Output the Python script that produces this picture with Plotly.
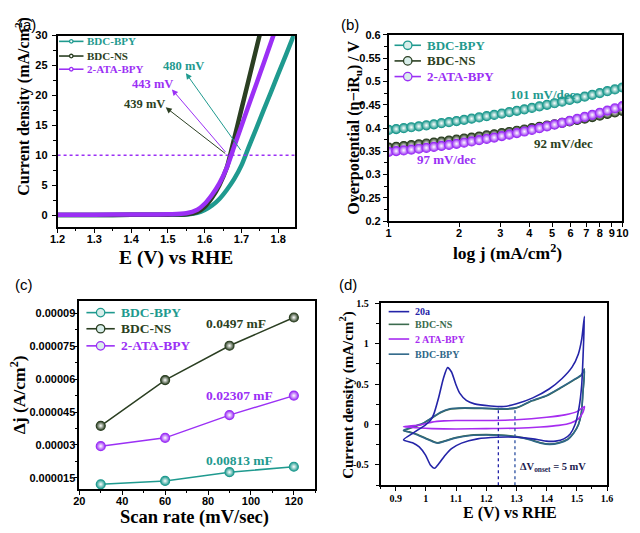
import plotly.graph_objects as go

W, H = 640, 533
OFF = 8  # page body margin of the html page
def PX(x): return (x - OFF) / W
def PY(y): return 1 - (y - OFF) / H

SERIF = "Liberation Serif"
SANS = "Liberation Sans"
TEAL = "#1f9a8f"; DARK = "#2b3f22"; PURP = "#9b30f5"
D_BLUE = "#2424a8"; D_NS = "#3c6b4e"; D_ATA = "#a62cf0"; D_BPY = "#2f6788"

# ---------------- (a) LSV ----------------
lsv_E_bpy = [1.20, 1.30, 1.40, 1.50, 1.55, 1.58, 1.60, 1.62, 1.64, 1.66, 1.68, 1.70, 1.72, 1.74, 1.76, 1.78, 1.80, 1.82, 1.84, 1.86]
lsv_j_bpy = [0.0, 0.02, 0.04, 0.07, 0.12, 0.4, 0.85, 1.6, 2.7, 4.2, 6.0, 8.3, 11.4, 14.4, 17.5, 20.5, 23.6, 26.6, 29.7, 32.7]
lsv_E_ns = [1.20, 1.30, 1.40, 1.50, 1.55, 1.58, 1.60, 1.62, 1.64, 1.66, 1.67, 1.68, 1.70, 1.72, 1.74, 1.76]
lsv_j_ns = [0.0, 0.02, 0.05, 0.08, 0.15, 0.55, 1.4, 2.9, 5.0, 7.9, 10.2, 12.7, 17.7, 22.7, 27.7, 32.7]
lsv_E_ata = [1.20, 1.30, 1.40, 1.50, 1.55, 1.58, 1.60, 1.62, 1.64, 1.66, 1.68, 1.70, 1.72, 1.74, 1.76, 1.78, 1.80]
lsv_j_ata = [0.05, 0.08, 0.1, 0.15, 0.3, 0.9, 1.9, 3.4, 5.3, 7.9, 11.4, 14.9, 18.4, 21.8, 25.3, 28.8, 32.3]
ref_j = 10
eta_labels = ["480 mV", "443 mV", "439 mV"]
eta_colors = [TEAL, PURP, DARK]
eta_tail = [(1.701, 10.6), (1.660, 10.3), (1.660, 10.1)]
eta_head = [(1.549, 23.7), (1.511, 21.0), (1.494, 18.0)]
eta_text = [(1.542, 24.9), (1.458, 21.9), (1.436, 18.6)]

# ---------------- (b) Tafel ----------------
taf_j = [1.000, 1.077, 1.160, 1.250, 1.346, 1.450, 1.561, 1.682, 1.811, 1.951, 2.102, 2.264, 2.438, 2.626, 2.828,
         3.047, 3.281, 3.534, 3.807, 4.100, 4.416, 4.757, 5.124, 5.519, 5.944, 6.402, 6.896, 7.428, 8.000, 8.617, 9.282, 10.0]
taf_bpy = [.3960, .3978, .3997, .4017, .4037, .4058, .4080, .4103, .4126, .4150, .4175, .4200, .4227, .4254, .4282, .4310,
           .4340, .4370, .4401, .4432, .4465, .4498, .4532, .4566, .4602, .4638, .4674, .4712, .4750, .4790, .4829, .4870]
taf_ns = [.3580, .3597, .3613, .3631, .3649, .3668, .3688, .3708, .3728, .3750, .3772, .3794, .3817, .3841, .3865, .3890,
          .3915, .3941, .3968, .3996, .4023, .4052, .4081, .4111, .4141, .4172, .4203, .4236, .4268, .4302, .4336, .4370]
taf_ata = [.3490, .3505, .3520, .3537, .3555, .3574, .3594, .3615, .3638, .3661, .3686, .3712, .3739, .3767, .3796, .3827,
           .3858, .3891, .3925, .3960, .3996, .4034, .4072, .4112, .4153, .4195, .4238, .4282, .4327, .4374, .4421, .4470]
taf_ticks = [1, 2, 3, 4, 5, 6, 7, 8, 9, 10]

# ---------------- (c) Cdl ----------------
scan = [30, 60, 90, 120]
dj_bpy = [0.0000120, 0.0000135, 0.0000175, 0.0000200]
dj_ns = [0.0000387, 0.0000596, 0.0000753, 0.0000882]
dj_ata = [0.0000294, 0.0000332, 0.0000436, 0.0000525]
c_ticks = [0.000015, 0.00003, 0.000045, 0.00006, 0.000075, 0.00009]
c_ticktext = ["0.000015", "0.00003", "0.000045", "0.00006", "0.000075", "0.00009"]
c_minor = [0.0000225, 0.0000375, 0.0000525, 0.0000675, 0.0000825]

# ---------------- (d) CV ----------------
cv20_x = [0.926, 0.960, 0.999, 1.015, 1.026, 1.042, 1.058, 1.072, 1.085, 1.098, 1.112, 1.134, 1.161, 1.214, 1.258, 1.300,
          1.354, 1.408, 1.451, 1.484, 1.505, 1.516, 1.525,
          1.521, 1.516, 1.507, 1.494, 1.478, 1.457, 1.430, 1.398, 1.354, 1.300, 1.236, 1.171, 1.118, 1.085, 1.064,
          1.044, 1.029, 1.015, 0.999, 0.978, 0.956, 0.926]
cv20_y = [-0.189, -0.10, -0.003, 0.05, 0.126, 0.328, 0.571, 0.704, 0.65, 0.51, 0.389, 0.30, 0.256, 0.23, 0.223, 0.256,
          0.33, 0.44, 0.57, 0.71, 0.874, 1.056, 1.34,
          0.894, 0.49, 0.207, 0.0, -0.116, -0.177, -0.205, -0.205, -0.177, -0.157, -0.157, -0.177, -0.23, -0.298, -0.379,
          -0.48, -0.54, -0.50, -0.379, -0.277, -0.225, -0.189]
cvns_x = [0.926, 0.960, 0.990, 1.020, 1.050, 1.080, 1.110, 1.160, 1.210, 1.260, 1.300, 1.350, 1.400, 1.450, 1.490, 1.515, 1.525,
          1.520, 1.515, 1.505, 1.490, 1.470, 1.440, 1.410, 1.380, 1.340, 1.300, 1.250, 1.200, 1.150, 1.100, 1.060,
          1.040, 1.025, 1.000, 0.970, 0.945, 0.926]
cvns_y = [-0.076, -0.03, 0.01, 0.08, 0.15, 0.19, 0.20, 0.20, 0.195, 0.19, 0.205, 0.29, 0.355, 0.46, 0.55, 0.61, 0.69,
          0.40, 0.15, 0.0, -0.10, -0.18, -0.225, -0.24, -0.225, -0.18, -0.15, -0.13, -0.125, -0.13, -0.16, -0.205,
          -0.225, -0.21, -0.17, -0.12, -0.09, -0.076]
cvbpy_x = [0.926, 0.960, 0.990, 1.020, 1.050, 1.080, 1.110, 1.160, 1.210, 1.260, 1.300, 1.350, 1.400, 1.450, 1.490, 1.515, 1.525,
           1.520, 1.515, 1.505, 1.490, 1.470, 1.440, 1.410, 1.380, 1.340, 1.300, 1.250, 1.200, 1.150, 1.100, 1.060,
           1.040, 1.025, 1.000, 0.970, 0.945, 0.926]
cvbpy_y = [-0.07, -0.025, 0.015, 0.085, 0.155, 0.195, 0.205, 0.205, 0.20, 0.195, 0.21, 0.295, 0.36, 0.465, 0.555, 0.615, 0.68,
           0.39, 0.14, -0.005, -0.105, -0.185, -0.23, -0.245, -0.23, -0.185, -0.155, -0.135, -0.13, -0.135, -0.165, -0.21,
           -0.23, -0.215, -0.175, -0.125, -0.095, -0.07]
cvata_x = [0.926, 0.980, 1.020, 1.060, 1.100, 1.200, 1.300, 1.400, 1.460, 1.500, 1.525,
           1.520, 1.505, 1.480, 1.440, 1.380, 1.300, 1.200, 1.100, 1.020, 0.970, 0.926]
cvata_y = [-0.027, -0.005, 0.03, 0.045, 0.05, 0.05, 0.06, 0.09, 0.12, 0.16, 0.225,
           0.15, 0.07, 0.02, -0.01, -0.03, -0.045, -0.05, -0.055, -0.05, -0.04, -0.027]
onset_E = [1.240, 1.295]
onset_top = [0.222, 0.20]
cv_ymin = -0.75

fig = go.Figure()

# (a)
for xs, ys, c in [(lsv_E_bpy, lsv_j_bpy, TEAL), (lsv_E_ns, lsv_j_ns, DARK), (lsv_E_ata, lsv_j_ata, PURP)]:
    fig.add_trace(go.Scatter(x=xs, y=ys, mode="lines", line=dict(color=c, width=4.5, shape="spline", smoothing=0.8),
                             xaxis="x", yaxis="y", showlegend=False))
fig.add_trace(go.Scatter(x=[1.2, 1.845], y=[ref_j, ref_j], mode="lines", line=dict(color=PURP, width=1.5, dash="dot"),
                         xaxis="x", yaxis="y", showlegend=False))

# (b)
for ys, c in [(taf_bpy, TEAL), (taf_ns, DARK), (taf_ata, PURP)]:
    fig.add_trace(go.Scatter(x=taf_j, y=ys, mode="lines+markers", line=dict(color=c, width=1.5),
                             marker=dict(size=9, color=c, gradient=dict(type="radial", color="#ffffff"),
                                         line=dict(color=c, width=1.2)),
                             xaxis="x2", yaxis="y2", showlegend=False))

# (c)
for ys, c in [(dj_bpy, TEAL), (dj_ns, DARK), (dj_ata, PURP)]:
    fig.add_trace(go.Scatter(x=scan, y=ys, mode="lines+markers", line=dict(color=c, width=1.5),
                             marker=dict(size=9, color=c, gradient=dict(type="radial", color="#ffffff"),
                                         line=dict(color=c, width=1.2)),
                             xaxis="x3", yaxis="y3", showlegend=False))

# (d)
for xs, ys, c in [(cvns_x, cvns_y, D_NS), (cvbpy_x, cvbpy_y, D_BPY), (cvata_x, cvata_y, D_ATA), (cv20_x, cv20_y, D_BLUE)]:
    fig.add_trace(go.Scatter(x=xs, y=ys, mode="lines", line=dict(color=c, width=1.6, shape="spline", smoothing=0.6),
                             xaxis="x4", yaxis="y4", showlegend=False))
for e, t, c in zip(onset_E, onset_top, [D_BLUE, "#2a4fa0"]):
    fig.add_trace(go.Scatter(x=[e, e], y=[cv_ymin, t], mode="lines", line=dict(color=c, width=1.3, dash="dot"),
                             xaxis="x4", yaxis="y4", showlegend=False))

def axis(domain, anchor, rng, tickfont, standoff=0, **kw):
    d = dict(domain=domain, anchor=anchor, range=rng, showline=True, linecolor="black", linewidth=1.5, mirror=True,
             ticks="outside", ticklen=4, tickwidth=1.3, tickcolor="black", showgrid=False, zeroline=False,
             tickfont=tickfont, ticklabelstandoff=standoff, tickangle=0)
    d.update(kw)
    return d

TF = dict(family=SANS, size=11, color="black", weight="bold")
TFD = dict(family=SERIF, size=10, color="black", weight="bold")
MIN = lambda dt: dict(ticks="outside", ticklen=2.5, tickwidth=1, tickcolor="black", dtick=dt, showgrid=False)

fig.update_layout(
    width=W, height=H, margin=dict(l=0, r=0, t=0, b=0), paper_bgcolor="white", plot_bgcolor="white",
    showlegend=False,
    xaxis=axis([PX(50.5), PX(293)], "y", [1.2, 1.845], TF, -3, dtick=0.1, tick0=1.2, minor=MIN(0.05)),
    yaxis=axis([PY(226), PY(30)], "x", [-2, 30], TF, 2, dtick=5, minor=MIN(2.5)),
    xaxis2=axis([PX(389), PX(628)], "y2", [0, 1], TF, -3, type="log", tickmode="array", tickvals=taf_ticks,
                ticktext=[str(v) for v in taf_ticks]),
    yaxis2=axis([PY(220), PY(29.3)], "x2", [0.2, 0.6], TF, 0, dtick=0.05, minor=MIN(0.025)),
    xaxis3=axis([PX(72.7), PX(314)], "y3", [20, 130], TF, -3, dtick=20, tick0=20, minor=MIN(10)),
    yaxis3=axis([PY(494), PY(301.7)], "x3", [0.0000098, 0.0000957], TF, -4, tickmode="array", tickvals=c_ticks,
                ticktext=c_ticktext,
                minor=dict(ticks="outside", ticklen=2.5, tickwidth=1, tickcolor="black", tickvals=c_minor)),
    xaxis4=axis([PX(380.7), PX(612.3)], "y4", [0.85, 1.6], TFD, -1, dtick=0.1, tick0=0.9, minor=MIN(0.05)),
    yaxis4=axis([PY(490), PY(304)], "x4", [-0.75, 1.5], TFD, 4, tickmode="array", tickvals=[-0.5, 0, 0.5, 1, 1.5],
                ticktext=["-0.5", "0", "0.5", "1", "1.5"], minor=MIN(0.25)),
)

ann = []
shapes = []

def text(x, y, s, size, color="black", family=SERIF, angle=0, xanchor="center", yanchor="middle", bold=True,
         ref=("paper", "paper")):
    ann.append(dict(x=x, y=y, xref=ref[0], yref=ref[1], text=("<b>%s</b>" % s) if bold else s, showarrow=False,
                    font=dict(family=family, size=size, color=color), textangle=angle, xanchor=xanchor,
                    yanchor=yanchor))

# panel letters (top ones anchored to page top)
text(PX(8), PY(8), "(a)", 15, family=SANS, bold=False, xanchor="left", yanchor="top")
text(PX(338), PY(8), "(b)", 15, family=SANS, bold=False, xanchor="left", yanchor="top")
text(PX(16), PY(285), "(c)", 15, family=SANS, bold=False)
text(PX(347), PY(285), "(d)", 15, family=SANS, bold=False)

# axis titles
text(PX(172), PY(258), "E (V) vs RHE", 19.5)
text(PX(15), PY(102), "Current density (mA/cm<sup>2</sup>)", 16, angle=-90)
text(PX(510), PY(251), "log j (mA/cm<sup>2</sup>)", 17.5)
text(PX(354), PY(124), "Overpotential (η−iR<sub>u</sub>) / V", 16, angle=-90)
text(PX(191), PY(523), "Scan rate (mV/sec)", 18.5)
text(PX(10), PY(397), "Δj (A/cm<sup>2</sup>)", 17.5, angle=-90)
text(PX(346), PY(398), "Current density (mA/cm<sup>2</sup>)", 15, angle=-90)
text(PX(513), PY(519), "E (V) vs RHE", 16)

# (a) arrows and labels
for lab, c, tl, hd, tx in zip(eta_labels, eta_colors, eta_tail, eta_head, eta_text):
    ann.append(dict(x=hd[0], y=hd[1], ax=tl[0], ay=tl[1], xref="x", yref="y", axref="x", ayref="y", text="",
                    showarrow=True, arrowhead=2, arrowsize=1.2, arrowwidth=1, arrowcolor=c))
    text(tx[0], tx[1], lab, 12.5, color=c, ref=("x", "y"))

# (b) slope labels
text(PX(547), PY(90), "101 mV/dec", 13, color=TEAL)
text(PX(568), PY(140), "92 mV/dec", 13, color=DARK)
text(PX(448), PY(157), "97 mV/dec", 13, color=PURP)

# (c) capacitance labels
text(PX(233), PY(325), "0.0497 mF", 13.5, color=DARK)
text(PX(236), PY(398.5), "0.02307 mF", 13.5, color=PURP)
text(PX(236), PY(464.5), "0.00813 mF", 13.5, color=TEAL)

# (d) onset label
text(PX(557), PY(471.5), "ΔV<sub>onset</sub> = 5 mV", 10.5, color="#1c1c50")

# manual legends
def legend(rows, names, colors, x0, x1, xt, size, r=0, ball=False):
    for yy, nm, c in zip(rows, names, colors):
        shapes.append(dict(type="line", xref="paper", yref="paper", x0=PX(x0), x1=PX(x1), y0=PY(yy), y1=PY(yy),
                           line=dict(color=c, width=1.6)))
        if r:
            cx = (x0 + x1) / 2
            shapes.append(dict(type="circle", xref="paper", yref="paper", x0=PX(cx - r), x1=PX(cx + r),
                               y0=PY(yy + r), y1=PY(yy - r),
                               fillcolor=("#d8eeea" if ball else "white"), line=dict(color=c, width=1.3)))
        text(PX(xt), PY(yy), nm, size, color=c, xanchor="left")

legend([36, 51, 64.5], ["BDC-BPY", "BDC-NS", "2-ATA-BPY"], [TEAL, DARK, PURP], 52, 77, 79, 11, r=1.8)
legend([40, 56, 72], ["BDC-BPY", "BDC-NS", "2-ATA-BPY"], [TEAL, DARK, PURP], 395, 422, 426, 13, r=4.3, ball=True)
legend([313.5, 330, 347.5], ["BDC-BPY", "BDC-NS", "2-ATA-BPY"], [TEAL, DARK, PURP], 80, 109, 113, 13.5, r=4.3, ball=True)
legend([312.5, 325.5, 340.5, 356], ["20a", "BDC-NS", "2 ATA-BPY", "BDC-BPY"], [D_BLUE, D_NS, D_ATA, D_BPY],
       389, 410, 414, 10)

fig.update_layout(annotations=ann, shapes=shapes)
fig.write_html("out.html")
